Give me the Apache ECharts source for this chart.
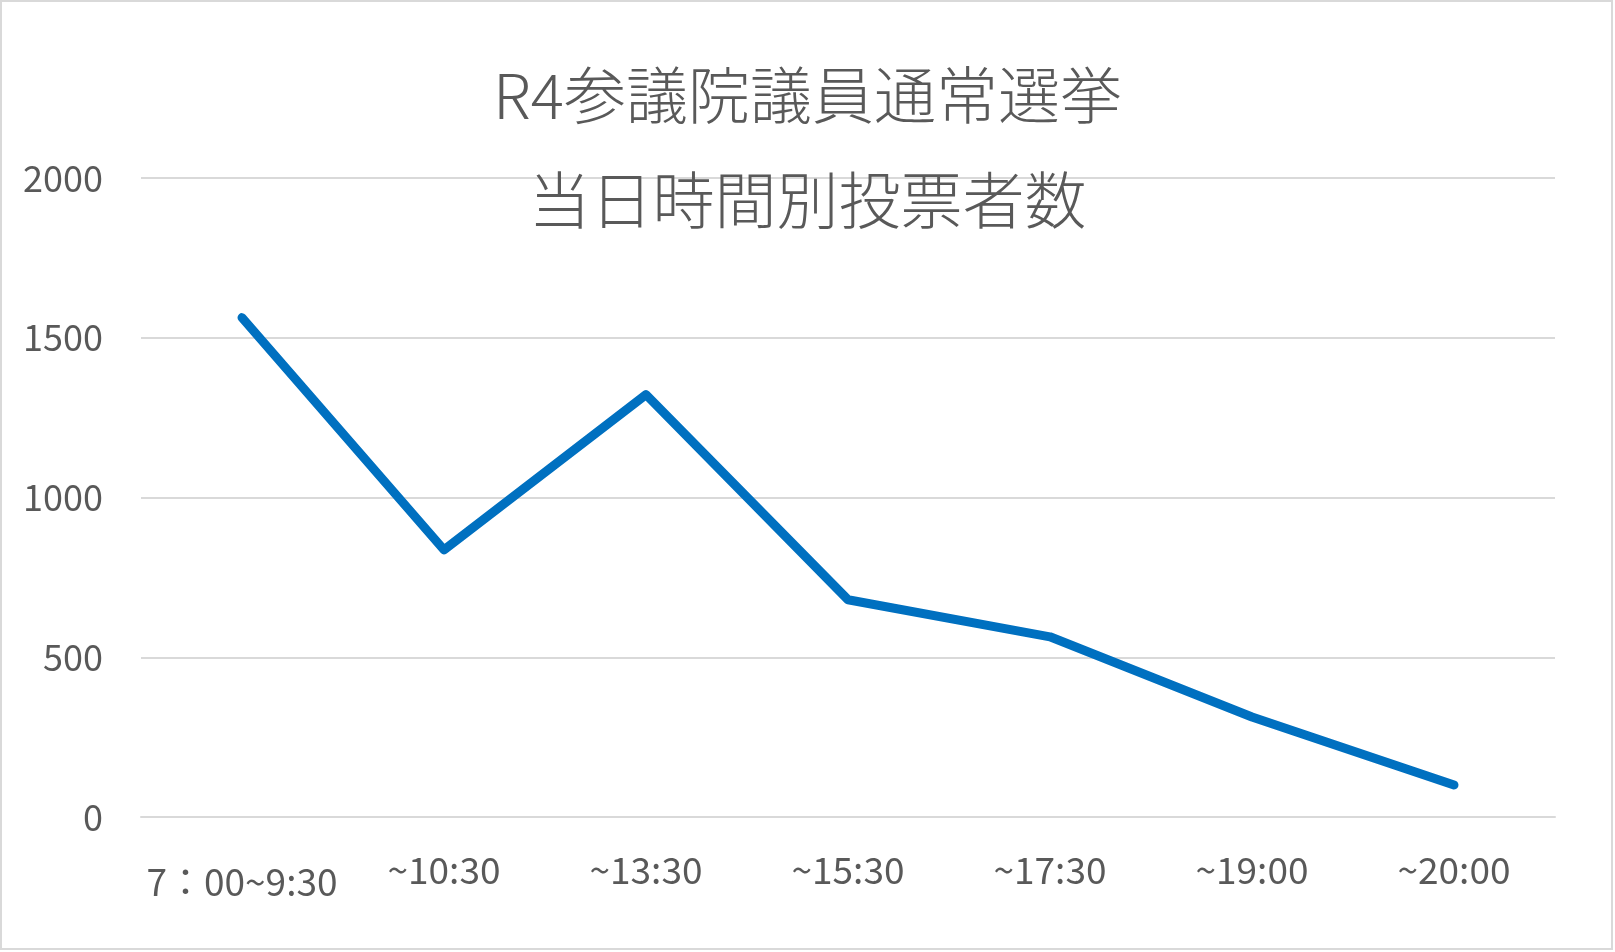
<!DOCTYPE html>
<html>
<head>
<meta charset="utf-8">
<script src="https://cdn.jsdelivr.net/npm/echarts@6/dist/echarts.min.js"></script>
<style>
html,body{margin:0;padding:0;background:#fff;}
#main{width:1615px;height:952px;}
</style>
</head>
<body>
<div id="main"></div>
<script>
var titleLines = ['R4参議院議員通常選挙', '当日時間別投票者数'];
var timeSlots = ['7：00~9:30', '~10:30', '~13:30', '~15:30', '~17:30', '~19:00', '~20:00'];
var voters = [1563, 836, 1322, 680, 564, 313, 100];
var yTicks = [0, 500, 1000, 1500, 2000];

var mychart = echarts.init(document.getElementById('main'));
var textColor = '#595959';
var font = '"Noto Sans CJK JP", "Noto Sans", sans-serif';

var option = {
	backgroundColor: '#fff',
	animation: false,
	title: {
		text: titleLines.join('\n'),
		left: 'center',
		top: 38,
		textStyle: {
			color: textColor,
			fontFamily: font,
			fontWeight: 300,
			fontSize: 62,
			lineHeight: 105
		}
	},
	graphic: [{
		type: 'rect',
		shape: {x: 1, y: 1, width: 1611, height: 948},
		style: {fill: 'none', stroke: '#d9d9d9', lineWidth: 2},
		silent: true
	}],
	grid: {
		left: 141,
		right: 60,
		top: 178,
		bottom: 135,
		containLabel: false,
		outerBoundsMode: 'none'
	},
	xAxis: {
		type: 'category',
		data: timeSlots,
		boundaryGap: true,
		axisLine: {show: true, lineStyle: {color: '#d9d9d9', width: 2}},
		axisTick: {show: false},
		axisLabel: {
			color: textColor,
			fontFamily: font,
			fontSize: 37,
			margin: 34,
			interval: 0,
			formatter: function (v, i) {
				return i === 0 ? '{low|' + v + '}' : v;
			},
			rich: {
				low: {color: textColor, fontFamily: font, fontSize: 37, padding: [12, 0, 0, 0]}
			}
		}
	},
	yAxis: {
		type: 'value',
		min: yTicks[0],
		max: yTicks[yTicks.length - 1],
		interval: yTicks[1] - yTicks[0],
		axisLine: {show: false},
		axisTick: {show: false},
		splitLine: {lineStyle: {color: '#d9d9d9', width: 2}},
		axisLabel: {
			color: textColor,
			fontFamily: font,
			fontSize: 36,
			margin: 38,
			formatter: function (v) { return String(v); }
		}
	},
	series: [{
		name: '投票者数',
		type: 'line',
		data: voters,
		symbol: 'none',
		lineStyle: {color: '#0070C0', width: 9, cap: 'round', join: 'round'}
	}]
};
mychart.setOption(option);
</script>
</body>
</html>
